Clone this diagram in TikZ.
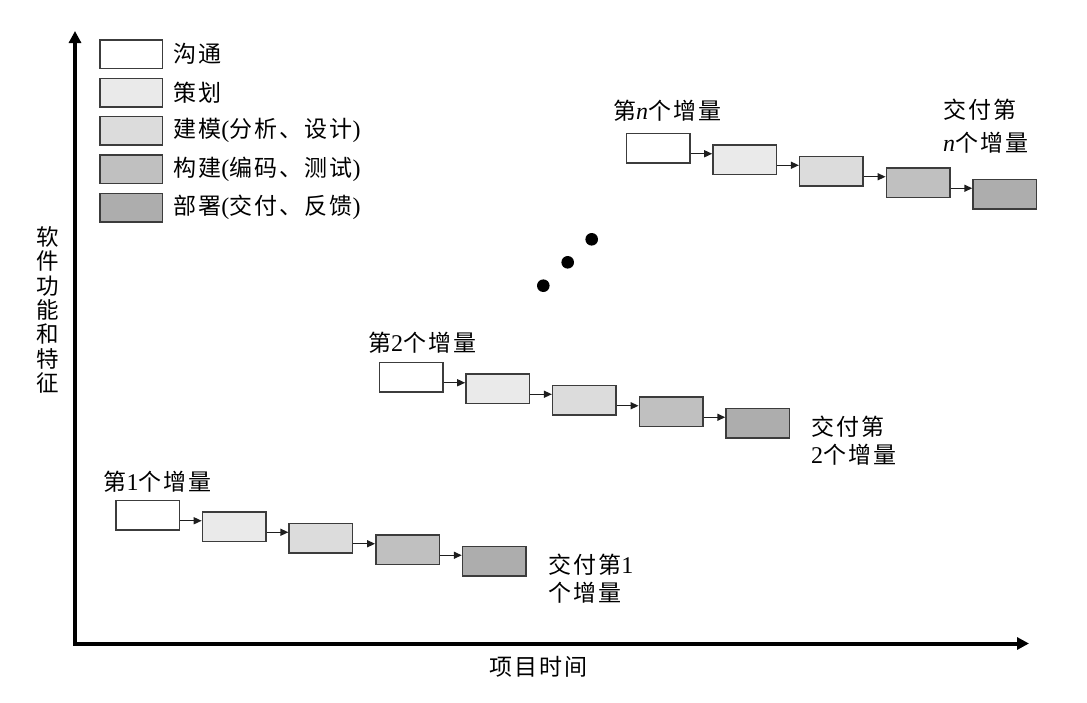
\documentclass[tikz,border=0pt]{standalone}
\usepackage{fontspec}
\setmainfont{Liberation Serif}
\newfontfamily\cjkfont[LetterSpace=9]{Noto Sans CJK SC}
\usetikzlibrary{arrows.meta,calc}
\newcommand\latn[1]{{\fontsize{24}{28}\rmfamily #1}}
\definecolor{boxline}{HTML}{3C3C3C}
\definecolor{arrowc}{HTML}{1E1E1E}
\definecolor{fillA}{HTML}{FFFFFF}
\definecolor{fillB}{HTML}{EAEAEA}
\definecolor{fillC}{HTML}{DCDCDC}
\definecolor{fillD}{HTML}{C0C0C0}
\definecolor{fillE}{HTML}{ADADAD}
\tikzset{
  stage/.style={draw=boxline, line width=1.5pt, minimum width=63.5pt, minimum height=29.5pt, inner sep=0pt},
  s1/.style={stage, fill=fillA},
  s2/.style={stage, fill=fillB},
  s3/.style={stage, fill=fillC},
  s4/.style={stage, fill=fillD},
  s5/.style={stage, fill=fillE},
  legbox/.style={minimum width=62.5pt, minimum height=28.5pt},
  flow/.style={draw=arrowc, line width=1.4pt, -{Triangle[length=8pt,width=7pt]}},
  lbl/.style={font={\fontsize{23}{28}\cjkfont}, inner sep=0pt, anchor=west},
  axis/.style={line width=4pt, line join=miter, {Triangle[length=12pt,width=12pt]}-{Triangle[length=12pt,width=12pt]}},
  bigdot/.style={circle, fill=black, minimum size=12.6pt, inner sep=0pt}
}
\begin{document}
\begin{tikzpicture}[x=1pt,y=-1pt]
\useasboundingbox (0,0) rectangle (1087,702);
% axes
\coordinate (ytip) at (75,31);
\coordinate (org) at (75,643.5);
\coordinate (xtip) at (1029,643.5);
\draw[axis] (ytip) -- (org) -- (xtip);
\node[font={\fontsize{22.5}{24.4}\cjkfont}, align=center, inner sep=0pt] (ylab) at (48,310) {软\\件\\功\\能\\和\\特\\征};
\node[lbl, anchor=center] (xlab) at (538.7,666.7) {项目时间};
% legend
\node[s1, legbox] (g1) at (131,54) {};
\node[s2, legbox] (g2) at (131,92.5) {};
\node[s3, legbox] (g3) at (131,130.5) {};
\node[s4, legbox] (g4) at (131,169) {};
\node[s5, legbox] (g5) at (131,207.5) {};
\node[lbl] (gt1) at (173,54) {沟通};
\node[lbl] (gt2) at (173,92.5) {策划};
\node[lbl] (gt3) at (173,130.5) {建模\latn{(}分析、设计\latn{)}};
\node[lbl] (gt4) at (173,169) {构建\latn{(}编码、测试\latn{)}};
\node[lbl] (gt5) at (173,207.5) {部署\latn{(}交付、反馈\latn{)}};
% increments
\foreach \r/\bx/\by in {1/147.5/515, 2/411/377, n/658/148} {
  \foreach \i in {1,...,5} {
    \node[s\i] (r\r b\i) at ({\bx+(\i-1)*86.7},{\by+(\i-1)*11.5}) {};
  }
  \foreach \i [evaluate=\i as \j using int(\i+1)] in {1,...,4} {
    \coordinate (r\r m\i) at ($(r\r b\i.center)!0.5!(r\r b\j.center)$);
    \draw[flow] (r\r b\i.east |- r\r m\i) -- (r\r b\j.west |- r\r m\i);
  }
}
% labels
\node[lbl] (l1a) at (103.5,482) {第\latn{1}个增量};
\node[lbl] (l1b) at (548,565) {交付第\latn{1}};
\node[lbl] (l1c) at (548,593) {个增量};
\node[lbl] (l2a) at (368,343) {第\latn{2}个增量};
\node[lbl] (l2b) at (811,427) {交付第};
\node[lbl] (l2c) at (811,455) {\latn{2}个增量};
\node[lbl] (lna) at (613,111) {第\latn{\itshape n}个增量};
\node[lbl] (lnb) at (943,110) {交付第};
\node[lbl] (lnc) at (943,143) {\latn{\itshape n}个增量};
% dots
\node[bigdot] (d1) at (543.3,285.7) {};
\node[bigdot] (d2) at (567.7,262.3) {};
\node[bigdot] (d3) at (591.7,239.3) {};
\end{tikzpicture}
\end{document}
